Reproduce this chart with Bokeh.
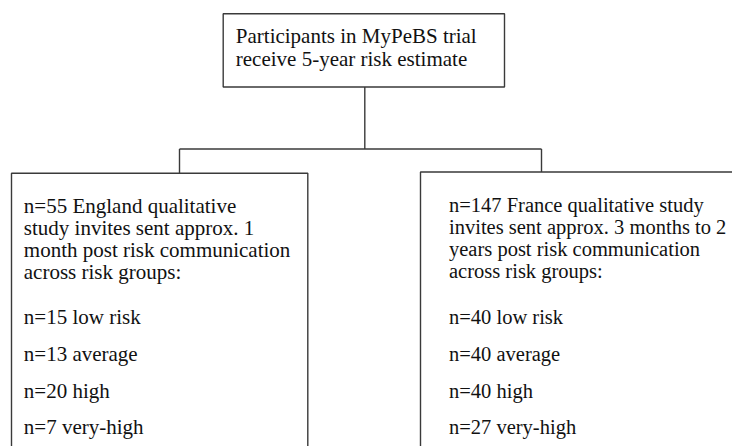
from bokeh.plotting import figure
from bokeh.models import Range1d
from bokeh.core.properties import value
from bokeh.embed import file_html
from bokeh.resources import INLINE

# ---- data ----
trial_lines = ["Participants in MyPeBS trial", "receive 5-year risk estimate"]
risk_groups = ["low risk", "average", "high", "very-high"]
england_total = 55
england_n = [15, 13, 20, 7]
england_intro = ["n={} England qualitative", "study invites sent approx. 1",
                 "month post risk communication", "across risk groups:"]
france_total = 147
france_n = [40, 40, 40, 27]
france_intro = ["n={} France qualitative study", "invites sent approx. 3 months to 2",
                "years post risk communication", "across risk groups:"]

# ---- layout (page pixel coordinates) ----
W, H = 732, 446
OFF = 0
p = figure(width=W, height=H, output_backend="svg", toolbar_location=None,
           x_range=Range1d(OFF, OFF + W), y_range=Range1d(OFF + H, OFF),
           min_border=0, outline_line_color=None)
p.axis.visible = False
p.grid.visible = False
p.background_fill_color = "white"
p.border_fill_color = "white"

LC = "#3a3a3a"
LW = 1.4
FONT = value("Liberation Serif")
TC = "#111111"

# top box
p.quad(left=[222.7], right=[504], top=[13.3], bottom=[86.5],
       fill_color=None, line_color=LC, line_width=LW)
# connectors
p.segment(x0=[364.3, 179, 179, 541], y0=[86.5, 148.5, 148.5, 148.5],
          x1=[364.3, 541, 179, 541], y1=[148.5, 148.5, 172.8, 171.5],
          line_color=LC, line_width=LW)
# lower boxes (extend beyond the visible page)
p.quad(left=[11, 420], right=[307.3, 760], top=[172.8, 171.5], bottom=[470, 470],
       fill_color=None, line_color=LC, line_width=LW)

# top box text
p.text(x=[235.3] * len(trial_lines), y=[35.5 + 23.3 * i for i in range(len(trial_lines))],
       text=trial_lines, text_font=FONT, text_font_size="21px", text_color=TC,
       text_baseline="alphabetic", text_align="left")


def column(x0, intro, total, counts, first_base, fs):
    lines = [intro[0].format(total)] + intro[1:]
    ys = [first_base + 22.2 * i for i in range(len(lines))]
    p.text(x=[x0] * len(lines), y=ys, text=lines, text_font=FONT, text_font_size=fs,
           text_color=TC, text_baseline="alphabetic", text_align="left")
    rl = ["n={} {}".format(n, g) for n, g in zip(counts, risk_groups)]
    ys2 = [316.7 + 36.7 * i for i in range(len(rl))]
    p.text(x=[x0] * len(rl), y=ys2, text=rl, text_font=FONT, text_font_size=fs,
           text_color=TC, text_baseline="alphabetic", text_align="left")


column(23.3, england_intro, england_total, england_n, 205, "21px")
column(448.5, france_intro, france_total, france_n, 204, "20.5px")

open("out.html", "w").write(file_html(p, INLINE))
